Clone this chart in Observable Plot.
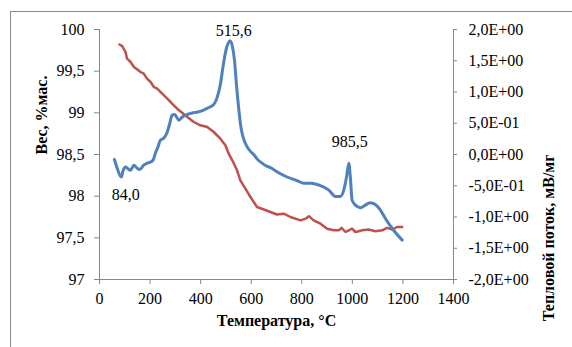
<!DOCTYPE html>
<html>
<head>
<meta charset="utf-8">
<script src="https://cdn.jsdelivr.net/npm/d3@7"></script>
<script src="https://cdn.jsdelivr.net/npm/@observablehq/plot@0.6"></script>
<style>
  html, body { margin: 0; padding: 0; background: #fff; }
  #chart { position: relative; width: 572px; height: 347px; overflow: hidden; }
  #frame { position: absolute; left: 10px; top: 11px; width: 600px; height: 400px;
           border-left: 1px solid #8a8a8a; border-top: 1px solid #8a8a8a; }
  #chart svg { position: absolute; left: 0; top: 0; font-family: "Liberation Serif", "Times New Roman", serif !important; }
  #chart svg text { font-family: "Liberation Serif", "Times New Roman", serif !important; }
</style>
</head>
<body>
<div id="chart"><div id="frame"></div></div>
<script>
// Weight curve (left axis, % mass)
const tempW = [79,90,103,109,123,136,150,162,175,188,202,215,228,248,268,287,307,327,347,373,399,426,452,478,498,511,525,544,557,577,597,623,650,676,702,729,755,795,815,828,847,874,900,926,946,957,973,986,999,1012,1025,1039,1065,1091,1118,1137,1157,1177,1197];
const weight = [99.82,99.80,99.73,99.65,99.61,99.55,99.52,99.49,99.47,99.41,99.37,99.31,99.29,99.23,99.17,99.11,99.05,99.00,98.95,98.89,98.85,98.83,98.77,98.69,98.61,98.51,98.43,98.31,98.19,98.09,97.99,97.87,97.84,97.81,97.78,97.79,97.75,97.71,97.73,97.76,97.71,97.67,97.61,97.59,97.59,97.62,97.57,97.59,97.61,97.57,97.58,97.59,97.60,97.58,97.59,97.62,97.60,97.63,97.63];
// Heat-flow curve (right axis, mV/mg)
const tempH = [59,70,86,94,103,116,123,136,149,159,175,188,202,212,221,231,241,254,268,278,287,297,314,327,347,373,399,426,452,465,478,489,502,510,516,525,534,542,551,560,570,583,597,610,623,640,663,676,703,742,782,808,834,861,881,907,933,953,966,977,986,992,999,1012,1032,1051,1071,1091,1111,1130,1157,1197];
const heat = [-0.08,-0.22,-0.36,-0.25,-0.20,-0.24,-0.25,-0.17,-0.22,-0.24,-0.17,-0.14,-0.12,-0.09,0.02,0.12,0.23,0.26,0.36,0.50,0.63,0.64,0.55,0.60,0.64,0.67,0.69,0.74,0.80,0.91,1.12,1.42,1.70,1.79,1.82,1.74,1.50,1.10,0.72,0.42,0.25,0.13,0.05,0.00,-0.07,-0.13,-0.19,-0.21,-0.28,-0.36,-0.42,-0.46,-0.46,-0.48,-0.51,-0.57,-0.67,-0.67,-0.57,-0.36,-0.14,-0.36,-0.73,-0.81,-0.85,-0.81,-0.77,-0.80,-0.89,-1.02,-1.18,-1.37];
// Peak annotations (on heat-flow curve)
const peakT = [84.0, 515.6, 985.5];
const peakH = [-0.36, 1.82, -0.14];
// Ticks
const xTicks = [0,200,400,600,800,1000,1200,1400];
const yLeftTicks = [97,97.5,98,98.5,99,99.5,100];
const yRightTicks = [-2,-1.5,-1,-0.5,0,0.5,1,1.5,2];
const titles = {x: "Температура, °С", yLeft: "Вес, %мас.", yRight: "Тепловой поток, мВ/мг"};

const wData = tempW.map((t, i) => ({t, v: weight[i]}));
const hData = tempH.map((t, i) => ({t, v: heat[i]}));
const peaks = peakT.map((t, i) => ({t, v: peakH[i], label: t.toFixed(1).replace(".", ",")}));

const comma = v => String(v).replace(".", ",");
const expFmt = v => {
  if (v === 0) return "0,0E+00";
  const e = Math.floor(Math.log10(Math.abs(v)) + 1e-9);
  const m = v / Math.pow(10, e);
  return m.toFixed(1).replace(".", ",") + "E" + (e < 0 ? "-" : "+") + String(Math.abs(e)).padStart(2, "0");
};

const axisColor = "#868686";
const common = {
  width: 572, height: 347,
  marginLeft: 99, marginRight: 119, marginTop: 29, marginBottom: 68,
  style: "font-family: 'Liberation Serif', 'Times New Roman', serif; font-size: 16px; background: transparent; color: #000; overflow: visible;"
};

const plotA = Plot.plot({
  ...common,
  x: {domain: [0, 1400]},
  y: {domain: [97, 100]},
  marks: [
    Plot.ruleX([0], {stroke: axisColor}),
    Plot.ruleY([97], {stroke: axisColor}),
    Plot.axisX({ticks: xTicks, tickFormat: d => String(d), tickSize: 5, tickPadding: 8, stroke: axisColor, fill: "#000", label: null, fontSize: 16}),
    Plot.axisY({ticks: yLeftTicks, tickFormat: comma, tickSize: 5, tickPadding: 10, stroke: axisColor, fill: "#000", label: null, fontSize: 16}),
    Plot.line(wData, {x: "t", y: "v", stroke: "#C0504D", strokeWidth: 2.5}),
    Plot.text([titles.yLeft], {text: d => d, frameAnchor: "left", rotate: -90, dx: -58, fontWeight: "bold", fontSize: 16, fill: "#000"}),
    Plot.text([titles.x], {text: d => d, frameAnchor: "bottom", dy: 46, fontWeight: "bold", fontSize: 16, fill: "#000"})
  ]
});

const plotB = Plot.plot({
  ...common,
  x: {domain: [0, 1400], axis: null},
  y: {domain: [-2, 2]},
  marks: [
    Plot.ruleX([1400], {stroke: axisColor}),
    Plot.axisY({anchor: "right", ticks: yRightTicks, tickFormat: expFmt, tickSize: 3, tickPadding: 12, stroke: axisColor, fill: "#000", label: null, fontSize: 16}),
    Plot.line(hData, {x: "t", y: "v", stroke: "#4F81BD", strokeWidth: 3, curve: "monotone-x"}),
    Plot.text([peaks[0]], {x: "t", y: "v", text: "label", dx: 5, dy: 18, fontSize: 16, fill: "#000"}),
    Plot.text([peaks[1]], {x: "t", y: "v", text: "label", dx: 4, dy: -10, fontSize: 16, fill: "#000"}),
    Plot.text([peaks[2]], {x: "t", y: "v", text: "label", dx: 1, dy: -21, fontSize: 16, fill: "#000"}),
    Plot.text([titles.yRight], {text: d => d, frameAnchor: "right", rotate: -90, dx: 95, fontWeight: "bold", fontSize: 16, fill: "#000"})
  ]
});

const chart = document.getElementById("chart");
chart.appendChild(plotA);
chart.appendChild(plotB);
</script>
</body>
</html>
